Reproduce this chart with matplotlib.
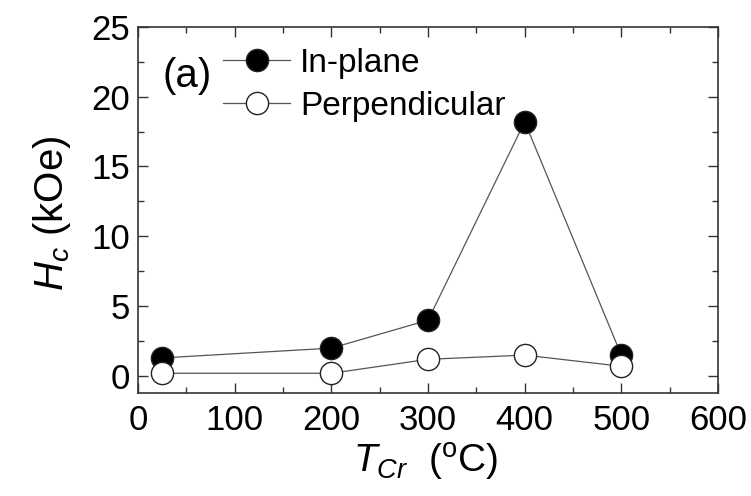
import matplotlib
matplotlib.use("Agg")
import matplotlib.pyplot as plt
from matplotlib.ticker import MultipleLocator

plt.rcParams['font.family'] = ['Liberation Sans', 'DejaVu Sans']
plt.rcParams['mathtext.fontset'] = 'custom'
plt.rcParams['mathtext.rm'] = 'Liberation Sans'
plt.rcParams['mathtext.it'] = 'Liberation Sans:italic'

temps = [25, 200, 300, 400, 500]
in_plane = [1.3, 2.0, 4.0, 18.2, 1.5]
perpendicular = [0.2, 0.2, 1.2, 1.5, 0.7]

fig = plt.figure(figsize=(7.51, 4.96), dpi=100)
ax = fig.add_axes([0.184, 0.208, 0.772, 0.738])

ax.plot(temps, in_plane, '-o', color='#555555', lw=0.9, ms=16,
        mfc='black', mec='#222222', mew=1.0, label='In-plane', zorder=3)
ax.plot(temps, perpendicular, '-o', color='#555555', lw=0.9, ms=16,
        mfc='white', mec='#222222', mew=1.0, label='Perpendicular', zorder=4)

ax.set_xlim(0, 600)
ax.set_ylim(-1.2, 25)
ax.xaxis.set_major_locator(MultipleLocator(100))
ax.xaxis.set_minor_locator(MultipleLocator(50))
ax.yaxis.set_major_locator(MultipleLocator(5))
ax.yaxis.set_minor_locator(MultipleLocator(2.5))
ax.tick_params(which='both', direction='in', top=True, right=True, color='#333333')
ax.tick_params(which='major', length=7, width=1.0, labelsize=25, pad=6)
ax.tick_params(axis='x', which='major', pad=8)
ax.tick_params(which='minor', length=4, width=1.0)
for s in ax.spines.values():
    s.set_color('#333333')
    s.set_linewidth(1.2)

ax.set_xlabel(r'$T_{Cr}$  ($^{\rm o}$C)', fontsize=28)
ax.xaxis.set_label_coords(0.495, -0.132)
ax.set_ylabel(r'$H_c$ (kOe)', fontsize=29)
ax.yaxis.set_label_coords(-0.112, 0.49)

ax.text(0.085, 0.866, '(a)', transform=ax.transAxes, fontsize=29,
        ha='center', va='center')
ax.legend(loc='upper left', bbox_to_anchor=(0.147, 0.942), frameon=False,
          fontsize=24, handlelength=2.0, handletextpad=0.3, labelspacing=0.36,
          borderaxespad=0, borderpad=0)

fig.savefig('out.png', dpi=100)
